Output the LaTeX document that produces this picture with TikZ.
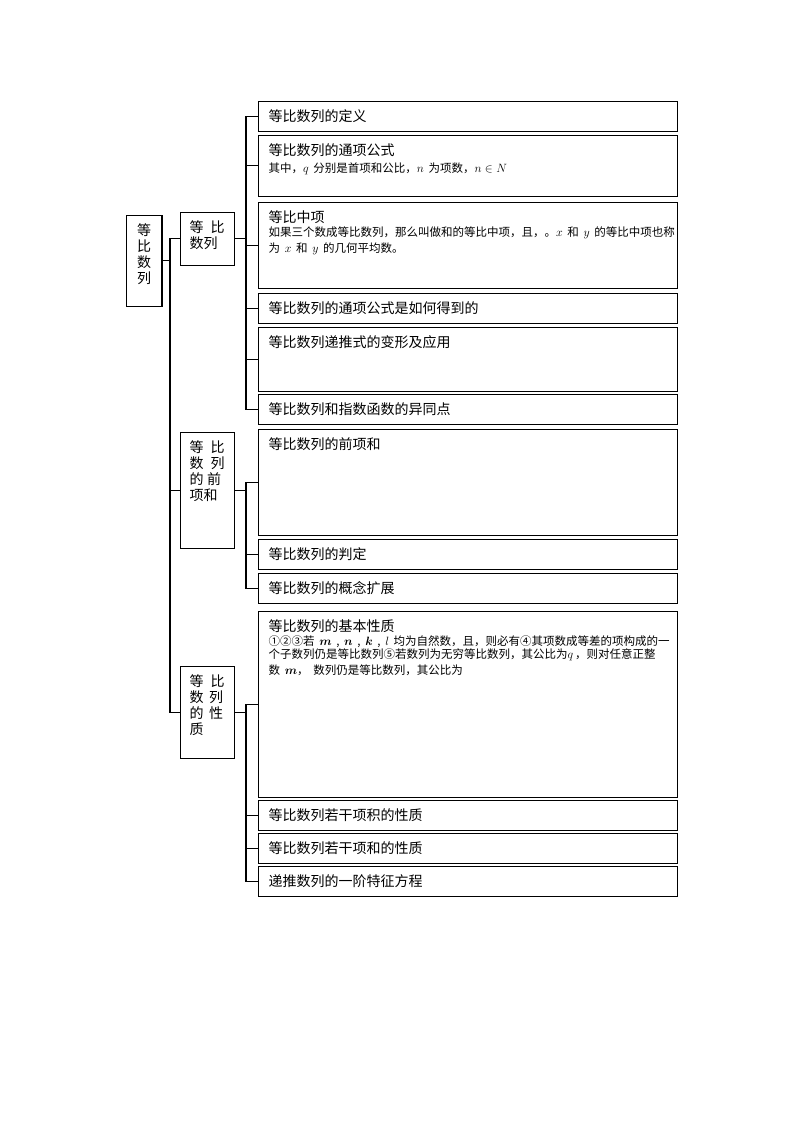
\documentclass[tikz,border=0pt]{standalone}
\usepackage{amsmath}
\usepackage{fontspec}
\setmainfont{Noto Sans CJK SC}
\usepackage{tikz}

\begin{document}
\begin{tikzpicture}[
    x = 1pt, y = -1pt, line width = 1.2pt,
    every node/.style = {draw, anchor = north west, inner ysep = 0pt,
      text height = 20.3pt, font = {\fontsize{14}{16}\selectfont}},
    topicbox/.style = {inner xsep = 0pt, text width = 35.6pt, align = center,
      text depth = #1-20.3},
    groupbox/.style = {inner xsep = 9pt, text width = 35.5pt, align = left,
      text depth = #1-20.3},
    itembox/.style = {inner xsep = 10pt, text width = 399pt, align = left,
      text depth = #1-20.3}
  ]
  \useasboundingbox (0,0) rectangle (800,1132);

  % root and groups
  \node[topicbox=91.5] (root) at (125.7,214.5) {等\\比\\数\\列};
  \node[groupbox=53] (seq) at (180,211.5) {等\hspace{0.5em}比\\数列};
  \node[groupbox=116] (sum) at (180,432)
    {等\hspace{0.5em}比\\数\hspace{0.5em}列\\的\hspace{0.25em}前\\项和};
  \node[groupbox=91.5] (prop) at (180,666)
    {等\hspace{0.5em}比\\数\hspace{0.4em}列\\的\hspace{0.4em}性\\质};

  % items
  \node[itembox=30] (def) at (258,100.5) {等比数列的定义};
  \node[itembox=61.5] (gen) at (258,134.5) {等比数列的通项公式\par\vspace{1.5pt}
    \fontsize{11.5}{13}\selectfont 其中，$q$~分别是首项和公比，$n$~为项数，$n\in N$};
  \node[itembox=86] (mean) at (258,201.5) {等比中项\par\vspace{1.5pt}
    \fontsize{11.5}{13}\selectfont
    如果三个数成等比数列，那么叫做和的等比中项，且，。$x$~和~$y$~的等比中项也称\\
    为~$x$~和~$y$~的几何平均数。};
  \node[itembox=30] (how) at (258,293) {等比数列的通项公式是如何得到的};
  \node[itembox=63.5] (recur) at (258,327) {等比数列递推式的变形及应用};
  \node[itembox=30] (expo) at (258,394) {等比数列和指数函数的异同点};

  \node[itembox=106] (first) at (258,429) {等比数列的前项和};
  \node[itembox=30] (judge) at (258,539) {等比数列的判定};
  \node[itembox=30] (ext) at (258,573) {等比数列的概念扩展};

  \node[itembox=186.5] (basic) at (258,610.5) {等比数列的基本性质\par\vspace{1.5pt}
    \fontsize{11.5}{13}\selectfont
    ①②③若~$\boldsymbol{m}$~,~$\boldsymbol{n}$~,~$\boldsymbol{k}$~,~$l$~均为自然数，且，则必有④其项数成等差的项构成的一\\
    个子数列仍是等比数列⑤若数列为无穷等比数列，其公比为$q$\,，则对任意正整\\
    数~$\boldsymbol{m}$，~数列仍是等比数列，其公比为};
  \node[itembox=30] (prod) at (258,800) {等比数列若干项积的性质};
  \node[itembox=29.5] (part) at (258,833) {等比数列若干项和的性质};
  \node[itembox=30] (char) at (258,865.5) {递推数列的一阶特征方程};

  % connectors
  \coordinate (trunk) at (170,0);
  \coordinate (bus) at (246,0);
  \draw (root.east) -- (root.east -| trunk);
  \draw (seq.west) -- (seq.west -| trunk) |- (prop.west);
  \draw (sum.west) -- (sum.west -| trunk);

  \draw (seq.east) -- (seq.east -| bus);
  \draw (def.west) -- (def.west -| bus) |- (expo.west);
  \draw (gen.west) -- (gen.west -| bus);
  \draw (mean.west) -- (mean.west -| bus);
  \draw (how.west) -- (how.west -| bus);
  \draw (recur.west) -- (recur.west -| bus);

  \draw (sum.east) -- (sum.east -| bus);
  \draw (first.west) -- (first.west -| bus) |- (ext.west);
  \draw (judge.west) -- (judge.west -| bus);

  \draw (prop.east) -- (prop.east -| bus);
  \draw (basic.west) -- (basic.west -| bus) |- (char.west);
  \draw (prod.west) -- (prod.west -| bus);
  \draw (part.west) -- (part.west -| bus);

\end{tikzpicture}
\end{document}
